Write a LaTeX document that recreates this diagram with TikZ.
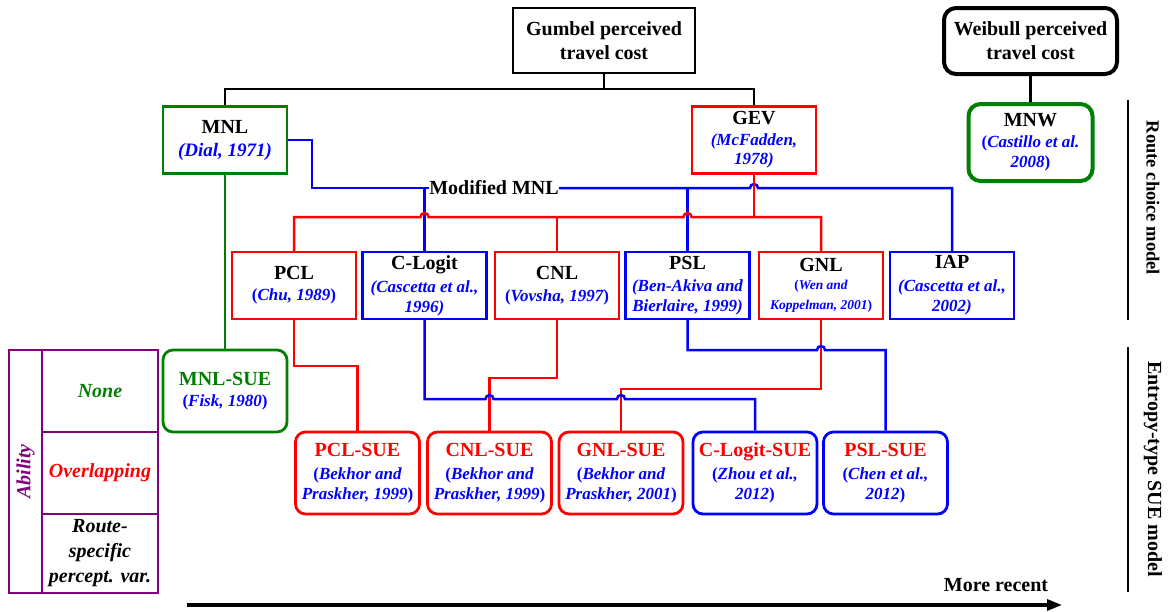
\documentclass[tikz,border=0pt]{standalone}
\usepackage{fontspec}
\setmainfont{Liberation Serif}
\usetikzlibrary{arrows.meta,calc}

\definecolor{cRed}{RGB}{255,0,0}
\definecolor{cBlue}{RGB}{0,0,255}
\definecolor{cGreen}{RGB}{0,128,0}
\definecolor{cPurple}{RGB}{128,0,128}

% title and citation fonts
\newcommand\ttl{\fontsize{20}{24}\selectfont\bfseries}
\newcommand\cit{\fontsize{17}{20}\selectfont\bfseries\itshape\color{cBlue}}
\newcommand\smcit{\fontsize{13.5}{16}\selectfont\bfseries\itshape\color{cBlue}}
\newcommand\upp[1]{{\upshape#1}}

\tikzset{
  base/.style={draw, line width=2.4pt, inner sep=0pt, align=center, font=\ttl, minimum width=124pt},
  model/.style={base, minimum height=67pt},
  redbox/.style={model, draw=cRed},
  bluebox/.style={model, draw=cBlue},
  suebox/.style={base, rounded corners=10pt, line width=2.8pt, minimum height=82pt},
  link/.style={line width=2.5pt},
  redlink/.style={link, draw=cRed},
  bluelink/.style={link, draw=cBlue},
  greenlink/.style={link, draw=cGreen},
}
% a small upward bump where a line passes over another one
\newcommand\hopover[1]{-- ($#1+(-4,0)$) arc[start angle=180,end angle=0,radius=4pt]}

\begin{document}
\begin{tikzpicture}[x=1pt,y=-1pt]
\useasboundingbox (0,0) rectangle (1171,611);

% ---- perceived travel cost roots
\node[base, draw=black, minimum width=182pt, minimum height=65pt] (gumbel) at (604,40.5)
  {Gumbel perceived\\travel cost};
\node[base, draw=black, line width=4pt, rounded corners=12pt, minimum width=173pt, minimum height=66pt] (weibull) at (1030.5,41)
  {Weibull perceived\\travel cost};

% ---- route choice models
\node[model, draw=cGreen] (mnl) at (225,140)
  {MNL\\[-1pt]{\cit\fontsize{19}{22}\selectfont (Dial, 1971)}};
\node[redbox] (gev) at (754,140)
  {GEV\\[-3pt]{\cit (McFadden,}\\[-5pt]{\cit 1978)}};
\node[base, draw=cGreen, line width=4pt, rounded corners=12pt, minimum width=124pt, minimum height=77pt] (mnw) at (1030.5,142.5)
  {MNW\\[-3pt]{\cit\upp{(}Castillo et al.}\\[-4pt]{\cit 2008\upp{)}}};

\node[redbox] (pcl) at (294,285.5)
  {PCL\\[-3pt]{\cit\upp{(}Chu, 1989\upp{)}}};
\node[bluebox] (clogit) at (424.5,285.5)
  {C-Logit\\[-1pt]{\cit (Cascetta et al.,}\\[-4pt]{\cit 1996)}};
\node[redbox] (cnl) at (557,285.5)
  {CNL\\[-2pt]{\cit\upp{(}Vovsha, 1997\upp{)}}};
\node[bluebox] (psl) at (687.5,285.5)
  {PSL\\[-2pt]{\cit (Ben-Akiva and}\\[-4pt]{\cit Bierlaire, 1999)}};
\node[redbox] (gnl) at (821,285.5)
  {GNL\\[-6pt]{\smcit\upp{(}Wen and}\\[-4pt]{\smcit Koppelman, 2001\upp{)}}};
\node[bluebox] (iap) at (952,285.5)
  {IAP\\[-1pt]{\cit (Cascetta et al.,}\\[-4pt]{\cit 2002)}};

\node[inner sep=0pt, font=\ttl] (mod) at (494,188) {Modified MNL};

% ---- entropy-type SUE models
\node[suebox, draw=cGreen] (mnlsue) at (225,391)
  {{\color{cGreen}MNL-SUE}\\[-3pt]{\cit\upp{(}Fisk, 1980\upp{)}}};
\node[suebox, draw=cRed] (pclsue) at (357.5,473)
  {{\color{cRed}PCL-SUE}\\[-1pt]{\cit\upp{(}Bekhor and}\\[-4pt]{\cit Praskher, 1999\upp{)}}};
\node[suebox, draw=cRed] (cnlsue) at (489.5,473)
  {{\color{cRed}CNL-SUE}\\[-1pt]{\cit\upp{(}Bekhor and}\\[-4pt]{\cit Praskher, 1999\upp{)}}};
\node[suebox, draw=cRed] (gnlsue) at (621,473)
  {{\color{cRed}GNL-SUE}\\[-1pt]{\cit\upp{(}Bekhor and}\\[-4pt]{\cit Praskher, 2001\upp{)}}};
\node[suebox, draw=cBlue] (clsue) at (755,473)
  {{\color{cRed}C-Logit-SUE}\\[-1pt]{\cit\upp{(}Zhou et al.,}\\[-4pt]{\cit 2012\upp{)}}};
\node[suebox, draw=cBlue] (pslsue) at (885.5,473)
  {{\color{cRed}PSL-SUE}\\[-1pt]{\cit\upp{(}Chen et al.,}\\[-4pt]{\cit 2012\upp{)}}};

% ---- bus levels
\coordinate (gbus) at (0,89);
\coordinate (mbus) at (312,188);
\coordinate (rbus) at (0,217);
\coordinate (lvA) at (0,366);
\coordinate (lvB) at (0,399);
\coordinate (lvC) at (0,378);
\coordinate (lvD) at (0,389);
\coordinate (lvE) at (0,350);

% ---- black tree from the roots
\draw[link] (mnl.north) -- (mnl.north |- gbus) -- (gev.north |- gbus) -- (gev.north);
\draw[link] (gumbel.south) -- (gumbel.south |- gbus);
\draw[link] (weibull.south) -- (weibull.south |- mnw.north);

% ---- MNL family (blue) and GEV family (red)
\draw[greenlink] (mnl.south) -- (mnlsue.north);
\draw[bluelink] (mnl.east) -| (mbus) -- (mod.west);
\draw[bluelink] (clogit.north) -- (clogit.north |- mbus);
\draw[bluelink] (mod.east) \hopover{(gev.south |- mod.east)} -- (iap.north |- mod.east) -- (iap.north);
\draw[bluelink] (psl.north) -- (psl.north |- mod.east);

\draw[redlink] (gev.south) -- (gev.south |- rbus);
\draw[redlink] (pcl.north) -- (pcl.north |- rbus)
  \hopover{(clogit.north |- rbus)} \hopover{(psl.north |- rbus)}
  -- (gnl.north |- rbus) -- (gnl.north);
\draw[redlink] (cnl.north) -- (cnl.north |- rbus);

% ---- links down to the SUE models
\draw[redlink] (pcl.south) -- (pcl.south |- lvA) -- (pclsue.north |- lvA) -- (pclsue.north);
\draw[redlink] (cnl.south) -- (cnl.south |- lvC) -- (cnlsue.north |- lvC) -- (cnlsue.north);
\draw[redlink] (gnl.south) -- (gnl.south |- lvD) -- (gnlsue.north |- lvD) -- (gnlsue.north);
\draw[bluelink] (clogit.south) -- (clogit.south |- lvB)
  \hopover{(cnlsue.north |- lvB)} \hopover{(gnlsue.north |- lvB)}
  -- (clsue.north |- lvB) -- (clsue.north);
\draw[bluelink] (psl.south) -- (psl.south |- lvE)
  \hopover{(gnl.south |- lvE)} -- (pslsue.north |- lvE) -- (pslsue.north);

% ---- ability legend
\draw[cPurple, line width=2.5pt] (9,350) rectangle (158,593);
\draw[cPurple, line width=2.5pt] (42,350) -- (42,593);
\draw[cPurple, line width=2.5pt] (42,432) -- (158,432);
\draw[cPurple, line width=2.5pt] (42,514) -- (158,514);
\node[font=\ttl\itshape, text=cPurple, rotate=90, inner sep=0pt] (ability) at (25.5,471.5) {Ability};
\node[font=\ttl\itshape, text=cGreen, inner sep=0pt] (none) at (100,391) {None};
\node[font=\ttl\itshape, text=cRed, inner sep=0pt] (overlap) at (100,473) {Overlapping};
\node[font=\fontsize{20}{25}\selectfont\bfseries\itshape, align=center, inner sep=0pt] (rspv) at (100,553.5)
  {Route-\\specific\\percept. var.};

% ---- side labels
\draw[line width=2.8pt] (1128,100) coordinate (rcTop) -- (1128,320) coordinate (rcBot);
\node[font=\fontsize{18.5}{22}\selectfont\bfseries, rotate=-90, inner sep=0pt] (rclabel) at (1153,198) {Route choice model};
\draw[line width=2.8pt] (1128,347) coordinate (esTop) -- (1128,592) coordinate (esBot);
\node[font=\fontsize{20}{24}\selectfont\bfseries, rotate=-90, inner sep=0pt] (eslabel) at (1153,469) {Entropy-type SUE model};

% ---- time axis
\coordinate (tStart) at (187,605);
\coordinate (tEnd) at (1062,605);
\draw[line width=3.2pt, -{Triangle[length=15pt,width=11pt]}] (tStart) -- (tEnd);
\node[font=\ttl, inner sep=0pt] (recent) at (996,585) {More recent};
\end{tikzpicture}
\end{document}
